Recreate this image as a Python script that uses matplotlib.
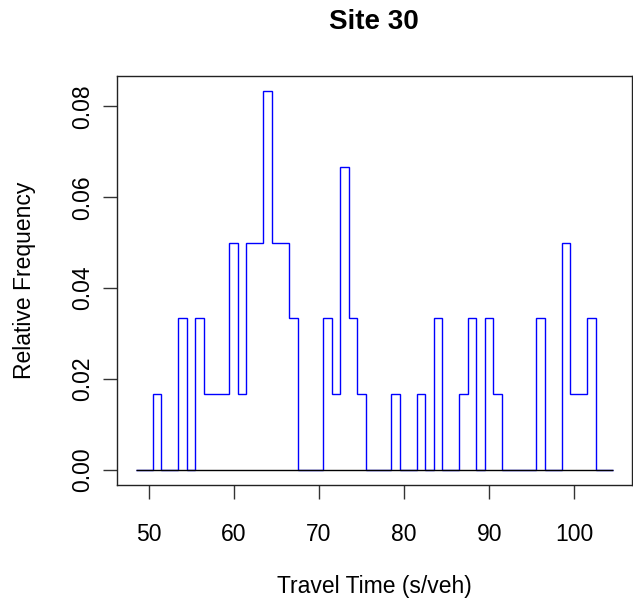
import numpy as np
import matplotlib
matplotlib.use('Agg')
import matplotlib.pyplot as plt

# travel times (s/veh) that were observed, and how many times each
travel_times = [51, 54, 56, 57, 58, 59, 60, 61, 62, 63, 64, 65, 66, 67,
                71, 72, 73, 74, 75, 79, 82, 84, 87, 88, 90, 91, 96,
                99, 100, 101, 102]
counts = [1, 2, 2, 1, 1, 1, 3, 1, 3, 3, 5, 3, 3, 2,
          2, 1, 4, 2, 1, 1, 1, 2, 1, 2, 2, 1, 2,
          3, 1, 1, 2]
bin_lo, bin_hi = 49, 104
x_ticks = [50, 60, 70, 80, 90, 100]
y_ticks = [0.00, 0.02, 0.04, 0.06, 0.08]

plt.rcParams['font.family'] = ['Liberation Sans', 'DejaVu Sans']

# relative frequency per 1 s bin
bins = np.arange(bin_lo, bin_hi + 1)
freq = np.zeros(len(bins))
freq[np.array(travel_times) - bin_lo] = counts
freq = freq / np.sum(counts)
edges = np.append(bins - 0.5, bins[-1] + 0.5)

fig = plt.figure(figsize=(6.33, 6.04), dpi=100)
ax = fig.add_axes([0.1843, 0.197, 0.8137, 0.677])

ax.stairs(freq, edges, color='blue', linewidth=1.0, zorder=2)
ax.hlines(0, edges[0], edges[-1], color='black', linewidth=1.0, zorder=3)

# R style 4% padding around the data range
ax.set_xlim(46.26, 106.74)
ax.set_ylim(-0.00333, 0.08667)
ax.set_xticks(x_ticks)
ax.set_xticklabels([str(t) for t in x_ticks])
ax.set_yticks(y_ticks)
ax.set_yticklabels(['%.2f' % t for t in y_ticks], rotation=90, va='center')
ax.tick_params(axis='both', direction='out', length=10, width=1.0,
               labelsize=16.5, color='#333333')
ax.tick_params(axis='x', pad=17)
ax.tick_params(axis='y', pad=6.5)
for s in ax.spines.values():
    s.set_linewidth(1.0)
    s.set_color('#222222')

ax.set_title('Site 30', fontsize=20, fontweight='bold', y=1.132, va='center', pad=0)
ax.set_xlabel('Travel Time (s/veh)', fontsize=16.5, va='center')
ax.xaxis.set_label_coords(0.5, -0.2494)
ax.set_ylabel('Relative Frequency', fontsize=16.5, va='center')
ax.yaxis.set_label_coords(-0.1786, 0.5)

fig.savefig('out.png', dpi=100)
